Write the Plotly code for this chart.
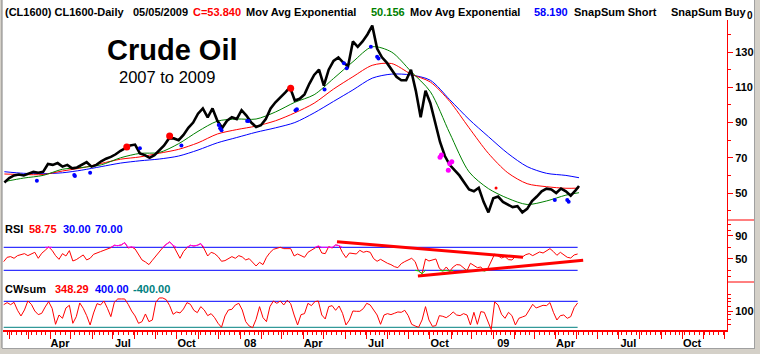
import pandas as pd
import plotly.graph_objects as go

# ---------------- data ----------------
# weekly closes, Crude oil continuous contract
price = [56, 58.5, 60, 60.5, 60, 61, 62, 61.5, 62, 66.5,
         66, 67, 65, 66, 64, 64.5, 66, 67.5, 65, 66,
         68, 69.5, 70.5, 72, 74, 75.5, 77, 77.5, 72.5, 71.5,
         70, 71.5, 74.5, 77, 81, 81, 80, 83, 87, 90,
         95, 98, 93, 98, 91, 87, 91, 93, 92, 97,
         94, 90, 87.5, 88.5, 92, 98, 101.5, 104, 107, 110,
         102.5, 103.5, 106, 112, 117, 120, 111, 120, 125, 127,
         124, 122, 136, 133, 136, 140, 145, 132, 127, 124,
         120, 116, 114, 114, 120, 108, 93, 108, 101, 90,
         79, 71, 66, 63, 60, 56, 52, 51, 53, 45,
         39, 47, 48, 45, 43.5, 42, 42.5, 39, 41, 45.5,
         48, 51, 52.5, 52, 50, 52.5, 51, 48.5, 51.5, 54]

# exponential moving averages, every 4 weeks
ema_fast = [56.5, 58.5, 60, 63.5, 64.5, 66, 70, 72.5, 73, 78, 85, 90.8, 92, 92, 96,
            101.5, 105.8, 115, 124.5, 133, 130, 119, 107.5, 84, 62, 52.5, 47, 43.5,
            45.5, 48.8, 50.2]
ema_mid = [60.8, 60.5, 60.5, 62.5, 64.3, 66.8, 69.2, 70.5, 72.6, 74.8, 78.5, 83.5, 86,
           88, 91, 95.5, 101, 109, 116, 122.5, 123.5, 117.5, 113, 102, 87, 72.5, 61.5,
           55.3, 53.6, 52.7, 52.8]
ema_slow = [62.1, 61.2, 61, 61.5, 63, 65, 67, 68.3, 69.3, 71, 74.4, 78.5, 81.5, 84.5,
            87, 90, 95.5, 102, 108.5, 115.2, 117.5, 117, 114, 103, 91.8, 82, 72.5, 65,
            61.2, 60, 58.7]

# RSI, every 5 days
rsi = [45.1, 52.6, 53.8, 50.9, 55.5, 57.2, 59.0, 55.5, 59.0, 61.3,
       50.9, 59.6, 64.8, 70.6, 64.8, 55.5, 49.1, 59.0, 54.9, 64.2,
       46.2, 48.6, 52.6, 56.7, 48.0, 50.9, 57.8, 59.6, 62.5, 64.8,
       67.1, 69.4, 73.5, 72.9, 74.1, 78.1, 68.8, 70.6, 67.1, 57.8,
       48.0, 44.5, 39.9, 47.4, 54.9, 62.5, 69.4, 75.2, 79.3, 73.5,
       62.5, 50.9, 62.5, 69.4, 73.5, 72.3, 73.5, 76.4, 67.1, 54.9,
       61.3, 59.0, 53.8, 45.7, 46.8, 49.7, 53.8, 50.9, 55.5, 53.2,
       48.0, 50.3, 43.9, 37.5, 43.9, 39.9, 52.6, 60.7, 66.5, 68.3,
       70.0, 67.7, 67.1, 67.7, 54.9, 58.4, 55.5, 52.6, 61.3, 65.4,
       69.4, 72.3, 60.1, 59.0, 71.2, 68.8, 74.1, 72.9, 60.7, 52.0,
       60.1, 59.6, 58.4, 64.8, 61.3, 63.0, 61.3, 50.3, 45.7, 49.1,
       45.1, 42.2, 39.9, 36.4, 34.6, 41.6, 45.1, 48.6, 50.9, 45.1,
       28.8, 24.2, 49.7, 46.2, 48.6, 49.7, 33.5, 28.8, 35.8, 28.3,
       35.8, 39.9, 39.3, 33.5, 29.4, 42.2, 38.1, 34.6, 35.8, 28.8,
       32.9, 46.2, 58.4, 54.9, 51.4, 53.8, 48.6, 48.0, 53.8, 52.0,
       53.2, 57.2, 59.0, 55.5, 59.0, 61.9, 60.1, 63.6, 67.7, 62.5,
       56.1, 61.3, 56.1, 52.6, 51.4, 56.7, 58.4]

# CWsum, every 5 days
cwsum = [297, 359, 297, 369, 123, -51, 133, 410, 308, 102,
         -10, 31, 226, 390, 185, -308, -21, -123, 195, 277,
         -277, -72, 349, 185, -41, -328, 41, 328, 287, 410,
         185, -72, 369, 472, 472, 472, 308, 102, -51, -277,
         -226, 10, -226, -175, 369, 503, 503, 451, 267, 0,
         72, 41, 164, 359, 308, 123, 51, 236, 133, -41,
         20, -103, -277, -400, -51, 133, 154, 287, 338, 133,
         -226, -359, -411, -154, 236, -103, -226, 236, 410, 338,
         410, 287, 431, 328, -21, -328, -10, 20, 338, 267,
         390, 410, -21, -144, 236, 267, 123, 256, 31, -328,
         -175, 102, 92, 92, 174, 338, 287, 133, -21, -308,
         -21, 20, -10, 31, 72, 61, 123, -41, -308, -359,
         -400, -175, 236, -175, -370, -349, -41, -62, -103, -31,
         72, -21, -41, 20, -21, -328, 61, -308, 82, 61,
         -226, -472, 380, 287, 0, -123, 61, -41, -328, -123,
         -82, -41, 133, 308, 195, 246, 277, 267, 359, 61,
         -175, -41, -21, -123, -72, 205, 349]

# signal markers
buy_dates = ["2007-03-13", "2007-05-06", "2007-05-07", "2007-05-29", "2007-08-09",
             "2007-10-08", "2007-12-01", "2007-12-03", "2007-12-05", "2008-01-11",
             "2008-01-13", "2008-03-21", "2008-03-23", "2008-05-02", "2008-05-30",
             "2008-06-03", "2008-07-08", "2008-07-17", "2008-07-19", "2009-03-31",
             "2009-04-18", "2009-04-20"]
buy_values = [57, 60.2, 59.6, 61.5, 75.4, 77, 88.6, 86.7, 85.7, 90.9,
              90.9, 97, 97.5, 108.8, 123.6, 120.8, 133, 127.3, 126.4, 46, 46, 45]
short_dates = ["2007-07-21", "2007-09-21", "2008-03-14"]
short_values = [76.1, 82.3, 109.5]
short_small_dates = ["2009-01-05"]
short_small_values = [52.8]
pink_dates = ["2008-10-16", "2008-10-18", "2008-10-28", "2008-10-30", "2008-11-02"]
pink_values = [70.3, 71.6, 63, 66.8, 67.7]

# RSI trend lines
trend_hi_dates = ["2008-05-20", "2009-02-13"]
trend_hi_values = [79.7, 52.6]
trend_lo_dates = ["2008-09-14", "2009-05-11"]
trend_lo_values = [20.1, 47.4]

rsi_levels = [30, 70]
cw_levels = [400, -400]

header = [("(CL1600) CL1600-Daily", "black"), ("05/05/2009", "black"),
          ("C=53.840", "#ff0000"), ("Mov Avg Exponential", "black"),
          ("50.156", "#008000"), ("Mov Avg Exponential", "black"),
          ("58.190", "#0000ff"), ("SnapSum Short", "black"), ("SnapSum Buy", "black")]
rsi_label = [("RSI", "black"), ("58.75", "#ff0000"), ("30.00", "#0000ff"), ("70.00", "#0000ff")]
cw_label = [("CWsum", "black"), ("348.29", "#ff0000"), ("400.00", "#0000ff"), ("-400.00", "#008080")]

# ---------------- geometry helpers ----------------
W, H = 760, 354
L, R, T, B = 3, 33, 20, 24
PW, PH = W - L - R, H - T - B


def pxx(x):
    return (x - L) / PW


def pxy(y):
    return (H - B - y) / PH


price_dates = list(pd.date_range("2007-01-25", periods=len(price) - 1, freq="7D")) + [pd.Timestamp("2009-05-05")]
ma_dates = list(pd.date_range("2007-01-25", periods=len(ema_fast) - 1, freq="28D")) + [pd.Timestamp("2009-05-05")]
osc_dates = list(pd.date_range("2007-01-24", periods=len(rsi), freq="5D"))


def band(vals, thr, above):
    def hit(v):
        return v > thr if above else v < thr
    out = []
    n = len(vals)
    for i, v in enumerate(vals):
        if hit(v):
            out.append(v)
        elif any(hit(vals[j]) for j in (i - 1, i + 1) if 0 <= j < n):
            out.append(thr)
        else:
            out.append(None)
    return out


fig = go.Figure()

# price panel
fig.add_trace(go.Scatter(x=ma_dates, y=ema_slow, mode="lines", line=dict(color="#0000ff", width=1, shape="spline", smoothing=0.8), yaxis="y"))
fig.add_trace(go.Scatter(x=ma_dates, y=ema_mid, mode="lines", line=dict(color="#ff0000", width=1, shape="spline", smoothing=0.8), yaxis="y"))
fig.add_trace(go.Scatter(x=ma_dates, y=ema_fast, mode="lines", line=dict(color="#008000", width=1, shape="spline", smoothing=0.8), yaxis="y"))
fig.add_trace(go.Scatter(x=price_dates, y=price, mode="lines", line=dict(color="black", width=2.6), yaxis="y"))
fig.add_trace(go.Scatter(x=buy_dates, y=buy_values, mode="markers", marker=dict(color="#0000ff", size=4), yaxis="y"))
fig.add_trace(go.Scatter(x=short_dates, y=short_values, mode="markers", marker=dict(color="#ff0000", size=7), yaxis="y"))
fig.add_trace(go.Scatter(x=short_small_dates, y=short_small_values, mode="markers", marker=dict(color="#ff0000", size=3), yaxis="y"))
fig.add_trace(go.Scatter(x=pink_dates, y=pink_values, mode="markers", marker=dict(color="#ff00ff", size=5), yaxis="y"))

# RSI panel
for lv in rsi_levels:
    fig.add_trace(go.Scatter(x=[osc_dates[0], osc_dates[-1]], y=[lv, lv], mode="lines", line=dict(color="#0000ff", width=1), yaxis="y2"))
fig.add_trace(go.Scatter(x=osc_dates, y=rsi, mode="lines", line=dict(color="#ff0000", width=1), yaxis="y2"))
fig.add_trace(go.Scatter(x=osc_dates, y=band(rsi, 70, True), mode="lines", line=dict(color="#ff00ff", width=1), yaxis="y2", connectgaps=False))
fig.add_trace(go.Scatter(x=osc_dates, y=band(rsi, 30, False), mode="lines", line=dict(color="#00dd00", width=1), yaxis="y2", connectgaps=False))
fig.add_trace(go.Scatter(x=trend_hi_dates, y=trend_hi_values, mode="lines", line=dict(color="#ff0000", width=3), yaxis="y2"))
fig.add_trace(go.Scatter(x=trend_lo_dates, y=trend_lo_values, mode="lines", line=dict(color="#ff0000", width=3), yaxis="y2"))

# CWsum panel
fig.add_trace(go.Scatter(x=[osc_dates[0], osc_dates[-1]], y=[cw_levels[0]] * 2, mode="lines", line=dict(color="#0000ff", width=1), yaxis="y3"))
fig.add_trace(go.Scatter(x=[osc_dates[0], osc_dates[-1]], y=[cw_levels[1]] * 2, mode="lines", line=dict(color="#008080", width=1), yaxis="y3"))
fig.add_trace(go.Scatter(x=osc_dates, y=cwsum, mode="lines", line=dict(color="#ff0000", width=1), yaxis="y3"))

# x axis ticks: every month, labels each quarter
month_ticks = list(pd.date_range("2007-02-01", "2009-12-01", freq="MS"))
month_text = []
for d in month_ticks:
    if d.month == 1:
        month_text.append(d.strftime("%y"))
    elif d.month in (4, 7, 10):
        month_text.append(d.strftime("%b"))
    else:
        month_text.append("")

FONT = "Liberation Sans, Arial, sans-serif"
tickfont = dict(family=FONT, size=11, color="black", weight="bold")

yax_common = dict(side="right", anchor="x", showgrid=False, zeroline=False, ticks="outside",
                  ticklen=5, tickcolor="#ff0000", tickwidth=1, showline=True, linecolor="#ff0000",
                  linewidth=1, tickfont=tickfont, fixedrange=True)

fig.update_layout(
    width=W, height=H,
    margin=dict(l=L, r=R, t=T, b=B),
    paper_bgcolor="white", plot_bgcolor="white",
    showlegend=False,
    xaxis=dict(type="date", range=["2007-01-23", "2009-12-05"], anchor="y3", domain=[0, 1],
               tickmode="array", tickvals=month_ticks, ticktext=month_text,
               ticks="outside", ticklen=7, tickcolor="#ff0000", tickwidth=1,
               showline=True, linecolor="#ff0000", linewidth=2, showgrid=False, zeroline=False,
               tickfont=tickfont, ticklabelshift=10, ticklabelstandoff=-5,
               minor=dict(dtick=7 * 86400000, tick0="2007-01-01", ticks="outside", ticklen=3,
                          tickcolor="#ff0000", tickwidth=1, showgrid=False)),
    yaxis=dict(domain=[pxy(220), 1], range=[34.7, 148.2], tickvals=[50, 70, 90, 110, 130],
               minor=dict(tickvals=[40, 60, 80, 100, 120, 140], ticks="outside", ticklen=3,
                          tickcolor="#ff0000", showgrid=False), **yax_common),
    yaxis2=dict(domain=[pxy(282), pxy(220)], range=[9.65, 117.5], tickvals=[50, 90],
                minor=dict(tickvals=[20, 30, 70, 100, 110], ticks="outside", ticklen=3,
                           tickcolor="#ff0000", showgrid=False), **yax_common),
    yaxis3=dict(domain=[0, pxy(282)], range=[-483, 994], tickvals=[100],
                minor=dict(tickvals=[600, 500, 400, 250, -20, -175, -300], ticks="outside", ticklen=3,
                           tickcolor="#ff0000", showgrid=False), **yax_common),
)

annotations = []


def add_row(parts, starts, ycen, size=11):
    for (txt, col), x0 in zip(parts, starts):
        annotations.append(dict(text=txt, x=pxx(x0), y=pxy(ycen), xref="paper", yref="paper",
                                xanchor="left", yanchor="middle", showarrow=False,
                                font=dict(family=FONT, size=size, color=col, weight="bold")))


add_row(header, [3, 131, 191, 244, 369, 408, 532, 572, 669], 12)
annotations.append(dict(text="0", x=pxx(745), y=pxy(16), xref="paper", yref="paper", xanchor="left",
                        yanchor="middle", showarrow=False,
                        font=dict(family=FONT, size=10, color="black", weight="bold")))
add_row(rsi_label, [3, 27, 61, 93], 229)
add_row(cw_label, [3, 53, 93, 131], 289)
annotations.append(dict(text="Crude Oil", x=pxx(172), y=pxy(49.5), xref="paper", yref="paper",
                        xanchor="center", yanchor="middle", showarrow=False,
                        font=dict(family=FONT, size=29, color="black", weight="bold")))
annotations.append(dict(text="2007 to 2009", x=pxx(167), y=pxy(76.5), xref="paper", yref="paper",
                        xanchor="center", yanchor="middle", showarrow=False,
                        font=dict(family=FONT, size=16.5, color="black")))
fig.update_layout(annotations=annotations)

shapes = []
# panel separators in the right axis strip
for yy in (220, 282):
    shapes.append(dict(type="line", xref="paper", yref="paper", x0=pxx(727), x1=pxx(755),
                       y0=pxy(yy), y1=pxy(yy), line=dict(color="#ff0000", width=1)))
# window frame
shapes.append(dict(type="rect", xref="paper", yref="paper", x0=pxx(0), x1=pxx(2), y0=pxy(354), y1=pxy(0),
                   line=dict(width=0), fillcolor="#d4d0c8", layer="above"))
shapes.append(dict(type="line", xref="paper", yref="paper", x0=pxx(2), x1=pxx(2), y0=pxy(348), y1=pxy(0),
                   line=dict(color="#808080", width=1), layer="above"))
shapes.append(dict(type="rect", xref="paper", yref="paper", x0=pxx(0), x1=pxx(760), y0=pxy(354), y1=pxy(349),
                   line=dict(width=0), fillcolor="#d4d0c8", layer="above"))
shapes.append(dict(type="line", xref="paper", yref="paper", x0=pxx(2), x1=pxx(755), y0=pxy(348.5), y1=pxy(348.5),
                   line=dict(color="#a0a0a0", width=1), layer="above"))
shapes.append(dict(type="rect", xref="paper", yref="paper", x0=pxx(755), x1=pxx(760), y0=pxy(354), y1=pxy(0),
                   line=dict(width=0), fillcolor="#d4d0c8", layer="above"))
shapes.append(dict(type="line", xref="paper", yref="paper", x0=pxx(754.5), x1=pxx(754.5), y0=pxy(348.5), y1=pxy(0),
                   line=dict(color="#a0a0a0", width=1), layer="above"))
fig.update_layout(shapes=shapes)

fig.write_html("out.html")
